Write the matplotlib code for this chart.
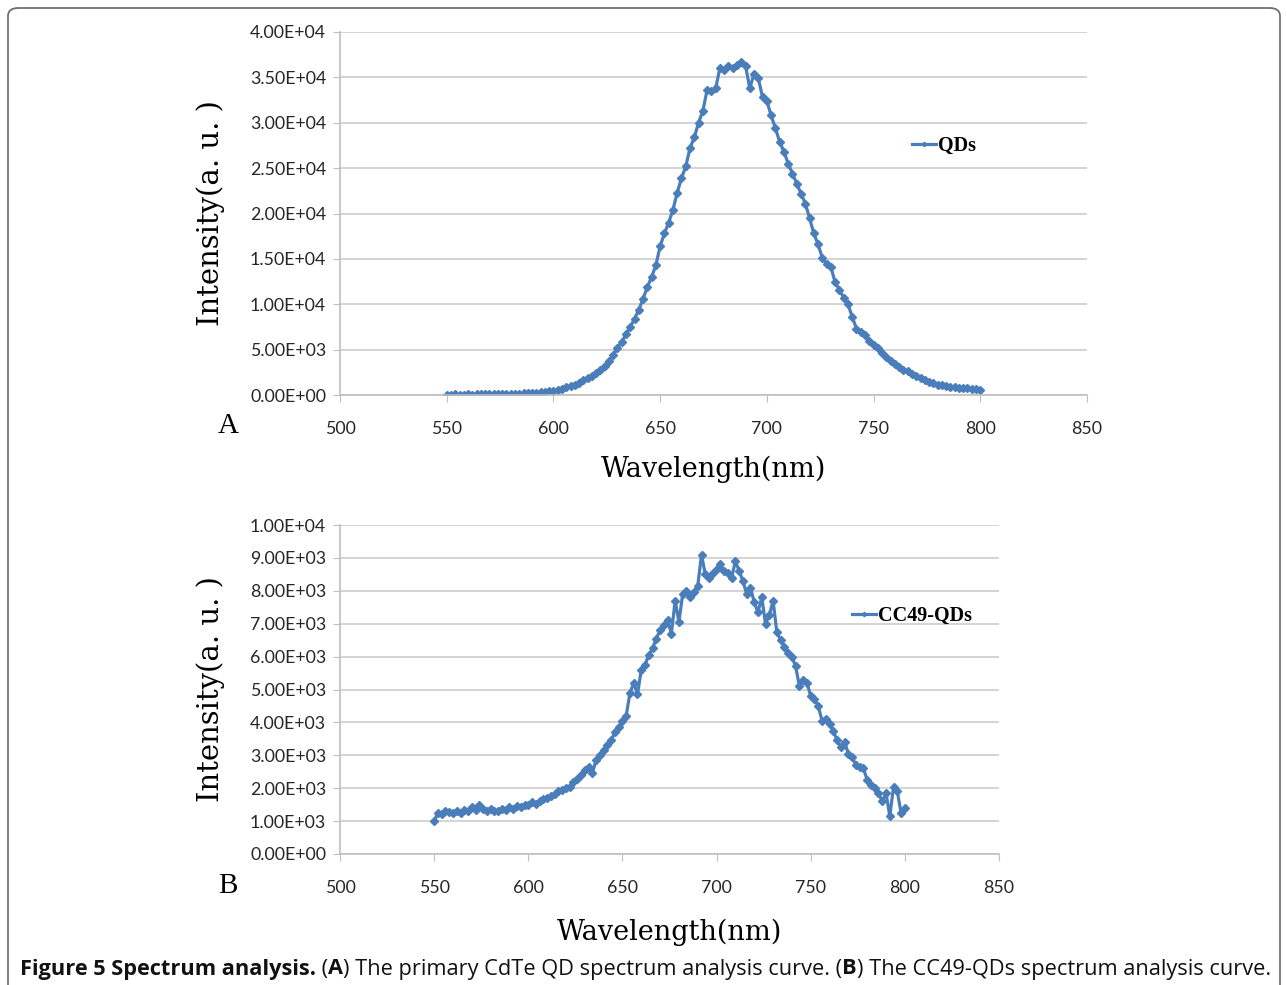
import numpy as np
import matplotlib
matplotlib.use("Agg")
import matplotlib.pyplot as plt
from matplotlib.patches import FancyBboxPatch

# ---------- data (intensity in units of 1e3) ----------
wl = np.arange(550, 801, 2)

qds = [0.05, 0.04, 0.06, 0.05, 0.04, 0.06, 0.05, 0.07, 0.06, 0.08,
       0.07, 0.09, 0.10, 0.09, 0.12, 0.13, 0.14, 0.15, 0.18, 0.20,
       0.22, 0.25, 0.30, 0.35, 0.40, 0.48, 0.58, 0.70, 0.85, 1.00,
       1.15, 1.35, 1.60, 1.85, 2.10, 2.45, 2.80, 3.25, 3.70, 4.40,
       5.20, 5.85, 6.70, 7.50, 8.40, 9.40, 10.6, 11.9, 13.0, 14.3,
       16.4, 17.8, 19.0, 20.4, 22.3, 23.9, 25.2, 27.2, 28.4, 30.0,
       31.3, 33.6, 33.5, 33.8, 36.0, 35.8, 36.2, 36.0, 36.4, 36.7,
       36.3, 33.8, 35.4, 34.9, 32.8, 32.4, 30.8, 29.4, 27.9, 26.8,
       25.5, 24.4, 23.3, 22.2, 21.1, 19.5, 17.8, 16.6, 15.1, 14.4,
       14.1, 12.4, 11.6, 10.7, 10.0, 8.6, 7.3, 6.9, 6.6, 6.0,
       5.5, 5.2, 4.6, 4.2, 3.7, 3.4, 3.1, 2.8, 2.6, 2.3,
       2.1, 1.9, 1.65, 1.45, 1.30, 1.15, 1.05, 0.95, 0.90, 0.85,
       0.82, 0.80, 0.75, 0.70, 0.62, 0.55]

cc49 = [1.00, 1.25, 1.22, 1.30, 1.28, 1.24, 1.32, 1.25, 1.35, 1.30,
        1.42, 1.35, 1.50, 1.38, 1.30, 1.36, 1.32, 1.30, 1.38, 1.34,
        1.42, 1.36, 1.46, 1.44, 1.50, 1.48, 1.58, 1.52, 1.62, 1.66,
        1.70, 1.76, 1.82, 1.90, 1.96, 2.02, 2.05, 2.18, 2.28, 2.40,
        2.55, 2.65, 2.45, 2.85, 3.00, 3.15, 3.30, 3.45, 3.70, 3.85,
        4.05, 4.20, 4.90, 5.20, 4.85, 5.60, 5.75, 6.05, 6.25, 6.55,
        6.80, 6.95, 7.10, 6.70, 7.70, 7.05, 7.90, 8.00, 7.80, 7.95,
        8.15, 9.10, 8.50, 8.40, 8.55, 8.65, 8.80, 8.60, 8.55, 8.40,
        8.90, 8.60, 8.30, 7.90, 8.10, 7.65, 7.35, 7.80, 7.00, 7.25,
        7.70, 6.75, 6.50, 6.30, 6.10, 6.00, 5.70, 5.10, 5.30, 5.20,
        4.80, 4.70, 4.50, 4.05, 4.10, 3.95, 3.75, 3.45, 3.25, 3.40,
        3.05, 2.95, 2.70, 2.65, 2.60, 2.25, 2.10, 2.00, 1.85, 1.60,
        1.85, 1.15, 2.05, 1.90, 1.25, 1.40]

x_ticks = [500, 550, 600, 650, 700, 750, 800, 850]
ya_ticks = [0, 5000, 10000, 15000, 20000, 25000, 30000, 35000, 40000]
yb_ticks = [0, 1000, 2000, 3000, 4000, 5000, 6000, 7000, 8000, 9000, 10000]

# ---------- style ----------
BLUE = "#4a7ebb"
GRID = "#d4d4d4"
TICK_FONT = "Lato"
LABEL_FONT = "DejaVu Serif"

W, H = 1287, 985
fig = plt.figure(figsize=(W / 100, H / 100), dpi=100)


def px_axes(l, t, r, b):
    return fig.add_axes([l / W, 1 - b / H, (r - l) / W, (b - t) / H])


def style_axis(ax, yticks, ymax):
    ax.set_xlim(500, 850)
    ax.set_ylim(0, ymax)
    ax.set_xticks(x_ticks)
    ax.set_yticks(yticks)
    ax.set_yticklabels([f"{v:.2E}" for v in yticks])
    for s in ["top", "right"]:
        ax.spines[s].set_visible(False)
    for s in ["left", "bottom"]:
        ax.spines[s].set_color("#bfbfbf")
        ax.spines[s].set_linewidth(1.2)
    ax.yaxis.grid(True, color=GRID, lw=1.4)
    ax.set_axisbelow(True)
    ax.tick_params(axis="both", direction="out", length=5, color="#bfbfbf",
                   labelsize=12.8, labelcolor="#262626")
    ax.tick_params(axis="x", pad=14)
    ax.tick_params(axis="y", pad=5)
    for lab in ax.get_xticklabels() + ax.get_yticklabels():
        lab.set_family(TICK_FONT)


def labels(ax, xpad):
    ax.set_xlabel("Wavelength(nm)", family=LABEL_FONT, fontsize=19.5, labelpad=xpad)
    ax.set_ylabel("Intensity(a. u. )", family=LABEL_FONT, fontsize=21, labelpad=18)


leg_prop = {"family": "Liberation Serif", "weight": "bold", "size": 14.5}

# ---------- panel A ----------
axA = px_axes(340, 32, 1087, 395)
axA.plot(wl, np.array(qds) * 1000, color=BLUE, lw=2.3, marker="D", ms=4.5,
         label="QDs")
style_axis(axA, ya_ticks, 40000)
labels(axA, 13)
axA.legend(loc="center left", bbox_to_anchor=(0.752, 0.686), frameon=False,
           handlelength=1.2, handletextpad=0.1, borderpad=0, markerscale=0.5,
           prop=leg_prop)

# ---------- panel B ----------
axB = px_axes(340, 525, 999, 854)
axB.plot(wl, np.array(cc49) * 1000, color=BLUE, lw=2.3, marker="D", ms=4.5,
         label="CC49-QDs")
style_axis(axB, yb_ticks, 10000)
labels(axB, 16)
axB.legend(loc="center left", bbox_to_anchor=(0.762, 0.723), frameon=False,
           handlelength=1.2, handletextpad=0.1, borderpad=0, markerscale=0.5,
           prop=leg_prop)

# panel letters
fig.text(228 / W, 1 - 426 / H, "A", family="Liberation Serif", fontsize=21,
         ha="center", va="center")
fig.text(228 / W, 1 - 886 / H, "B", family="Liberation Serif", fontsize=21,
         ha="center", va="center")

# ---------- outer frame ----------
frame = FancyBboxPatch((8 / W, -0.05), (1280 - 8) / W, 1 - 8 / H + 0.05,
                       boxstyle="round,pad=0,rounding_size=0.008",
                       transform=fig.transFigure, fill=False,
                       ec="#707070", lw=1.3, clip_on=False)
fig.add_artist(frame)

# ---------- caption ----------
pieces = [("Figure 5 Spectrum analysis.", "bold"), (" (", "normal"),
          ("A", "bold"), (") The primary CdTe QD spectrum analysis curve. (", "normal"),
          ("B", "bold"), (") The CC49-QDs spectrum analysis curve.", "normal")]
renderer = fig.canvas.get_renderer()


def draw_caption(size):
    x = 20
    drawn = []
    for txt, wt in pieces:
        t = fig.text(x / W, 1 - 969 / H, txt, family="Open Sans", fontsize=size,
                     weight=wt, va="center", ha="left", color="#111111")
        x += t.get_window_extent(renderer).width
        drawn.append(t)
    return x, drawn


end, drawn = draw_caption(13)
for t in drawn:
    t.remove()
draw_caption(13 * (1262 - 20) / (end - 20))

fig.savefig("out.png", dpi=100)
